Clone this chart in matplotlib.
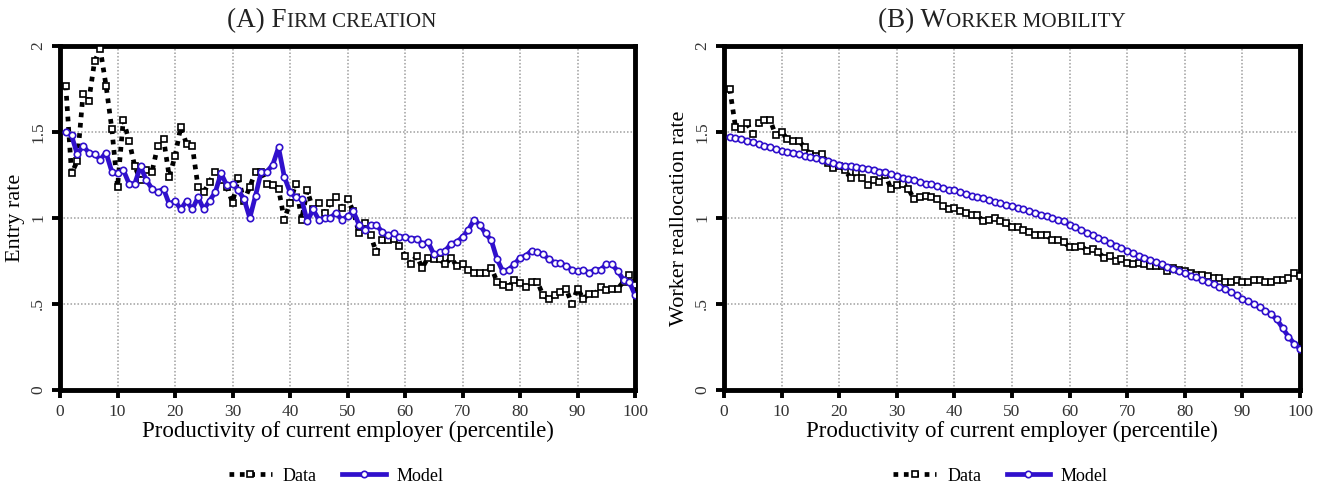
import numpy as np
import matplotlib
matplotlib.use("Agg")
import matplotlib.pyplot as plt

plt.rcParams['font.family'] = ['Liberation Serif', 'DejaVu Serif']

pct = list(range(1, 101))

# panel A: firm creation (entry rate)
entry_data = [1.77, 1.26, 1.33, 1.72, 1.68, 1.91, 1.98, 1.77, 1.52, 1.18,
              1.57, 1.45, 1.30, 1.22, 1.28, 1.27, 1.42, 1.46, 1.24, 1.36,
              1.53, 1.43, 1.42, 1.18, 1.15, 1.21, 1.27, 1.22, 1.18, 1.09,
              1.23, 1.10, 1.18, 1.27, 1.27, 1.20, 1.19, 1.17, 0.99, 1.09,
              1.20, 0.99, 1.16, 1.05, 1.09, 1.03, 1.09, 1.12, 1.06, 1.11,
              1.04, 0.91, 0.97, 0.90, 0.80, 0.87, 0.87, 0.88, 0.84, 0.78,
              0.73, 0.78, 0.71, 0.77, 0.76, 0.76, 0.73, 0.77, 0.72, 0.73,
              0.70, 0.68, 0.68, 0.68, 0.71, 0.63, 0.61, 0.60, 0.64, 0.62,
              0.60, 0.63, 0.63, 0.55, 0.53, 0.55, 0.57, 0.59, 0.50, 0.59,
              0.53, 0.56, 0.56, 0.60, 0.58, 0.59, 0.59, 0.63, 0.67, 0.61]
entry_model = [1.50, 1.48, 1.37, 1.42, 1.38, 1.37, 1.34, 1.38, 1.27, 1.26,
               1.28, 1.20, 1.20, 1.30, 1.22, 1.17, 1.15, 1.17, 1.08, 1.10,
               1.05, 1.10, 1.05, 1.12, 1.05, 1.10, 1.15, 1.26, 1.19, 1.20,
               1.16, 1.11, 1.00, 1.13, 1.27, 1.27, 1.31, 1.41, 1.24, 1.15,
               1.12, 1.11, 0.98, 1.05, 0.99, 1.00, 1.00, 1.03, 0.99, 1.01,
               1.04, 0.96, 0.93, 0.96, 0.96, 0.92, 0.90, 0.91, 0.89, 0.89,
               0.88, 0.88, 0.85, 0.86, 0.79, 0.80, 0.81, 0.85, 0.86, 0.89,
               0.93, 0.99, 0.96, 0.91, 0.87, 0.76, 0.69, 0.70, 0.73, 0.77,
               0.78, 0.81, 0.80, 0.79, 0.76, 0.74, 0.74, 0.72, 0.70, 0.69,
               0.70, 0.68, 0.70, 0.70, 0.73, 0.73, 0.69, 0.64, 0.63, 0.55]

# panel B: worker mobility (reallocation rate)
realloc_data = [1.75, 1.53, 1.52, 1.55, 1.49, 1.55, 1.57, 1.57, 1.48, 1.50,
                1.46, 1.45, 1.45, 1.41, 1.37, 1.36, 1.37, 1.32, 1.29, 1.30,
                1.28, 1.23, 1.27, 1.23, 1.19, 1.22, 1.21, 1.25, 1.17, 1.19,
                1.20, 1.17, 1.11, 1.12, 1.13, 1.12, 1.11, 1.07, 1.05, 1.06,
                1.04, 1.03, 1.02, 1.02, 0.98, 0.99, 1.00, 0.98, 0.97, 0.95,
                0.95, 0.93, 0.92, 0.90, 0.90, 0.90, 0.87, 0.87, 0.86, 0.83,
                0.83, 0.84, 0.81, 0.82, 0.80, 0.77, 0.78, 0.75, 0.76, 0.74,
                0.73, 0.74, 0.73, 0.72, 0.72, 0.72, 0.69, 0.71, 0.70, 0.69,
                0.68, 0.67, 0.67, 0.66, 0.65, 0.65, 0.63, 0.63, 0.64, 0.63,
                0.63, 0.64, 0.64, 0.63, 0.63, 0.64, 0.64, 0.65, 0.68, 0.66]
realloc_model = [1.47, 1.465, 1.46, 1.45, 1.44, 1.43, 1.42, 1.41, 1.40, 1.39,
                 1.385, 1.38, 1.37, 1.36, 1.355, 1.35, 1.34, 1.33, 1.32, 1.31,
                 1.305, 1.30, 1.295, 1.29, 1.285, 1.28, 1.27, 1.265, 1.255, 1.245,
                 1.235, 1.225, 1.22, 1.21, 1.20, 1.195, 1.185, 1.175, 1.165, 1.16,
                 1.15, 1.14, 1.13, 1.12, 1.115, 1.105, 1.095, 1.085, 1.075, 1.07,
                 1.06, 1.05, 1.04, 1.03, 1.02, 1.01, 1.00, 0.99, 0.98, 0.96,
                 0.945, 0.93, 0.915, 0.90, 0.885, 0.87, 0.855, 0.84, 0.825, 0.81,
                 0.795, 0.78, 0.77, 0.755, 0.745, 0.73, 0.715, 0.705, 0.69, 0.68,
                 0.665, 0.655, 0.64, 0.63, 0.615, 0.60, 0.585, 0.57, 0.55, 0.53,
                 0.515, 0.50, 0.48, 0.46, 0.44, 0.41, 0.36, 0.31, 0.27, 0.24]

xticks = [0, 10, 20, 30, 40, 50, 60, 70, 80, 90, 100]
yticks = [0, 0.5, 1, 1.5, 2]
yticklabels = ['0', '.5', '1', '1.5', '2']

blue = '#3010cc'

fig = plt.figure(figsize=(13.25, 4.88), dpi=100)
ax1 = fig.add_axes([0.0453, 0.2008, 0.434, 0.705])
ax2 = fig.add_axes([0.5464, 0.2008, 0.4347, 0.705])


def draw_panel(ax, data, model, ylabel):
    ax.plot(pct, data, color='black', linestyle=(0, (1, 1.2)), lw=3.4,
            marker='s', markersize=5, markerfacecolor='white',
            markeredgecolor='black', markeredgewidth=1.2, label='Data', zorder=3)
    ax.plot(pct, model, color=blue, lw=3.4, marker='o', markersize=4.6,
            markerfacecolor='white', markeredgecolor=blue,
            markeredgewidth=1.2, label='Model', zorder=4)
    ax.set_xlim(0, 100)
    ax.set_ylim(0, 2)
    ax.set_xticks(xticks)
    ax.set_yticks(yticks)
    ax.set_yticklabels(yticklabels, rotation=90, va='center')
    ax.grid(True, color='#b4b4b4', linestyle=(0, (0.8, 1.0)), lw=1.4)
    ax.set_axisbelow(True)
    for s in ax.spines.values():
        s.set_linewidth(3.5)
        s.set_color('black')
    ax.tick_params(direction='out', length=6, width=2.8, color='black',
                   labelsize=12.5, labelcolor='#333333', pad=4)
    ax.set_xlabel('Productivity of current employer (percentile)',
                  fontsize=16.5, labelpad=1)
    ax.set_ylabel(ylabel, fontsize=16, labelpad=4)
    ax.legend(loc='center', bbox_to_anchor=(0.48, -0.25), ncol=2,
              frameon=False, fontsize=13, handlelength=2.4,
              columnspacing=1.4, handletextpad=0.6)


draw_panel(ax1, entry_data, entry_model, 'Entry rate')
draw_panel(ax2, realloc_data, realloc_model, 'Worker reallocation rate')


def smallcaps_title(ax, parts, shift, y=0.945):
    # parts: list of (text, is_big); big letters larger, rest small caps
    r = fig.canvas.get_renderer()
    texts = []
    for s, big in parts:
        t = fig.text(0, y, s, fontsize=19.5 if big else 15.2, va='baseline',
                     ha='left', color='#222222')
        texts.append(t)
    widths = [t.get_window_extent(renderer=r).width for t in texts]
    total = sum(widths)
    pos = ax.get_position()
    cx = (pos.x0 + pos.x1) / 2 * fig.bbox.width + shift
    x = cx - total / 2
    for t, w in zip(texts, widths):
        t.set_x(x / fig.bbox.width)
        x += w


fig.canvas.draw()
smallcaps_title(ax1, [('(A) F', True), ('IRM CREATION', False)], -16)
smallcaps_title(ax2, [('(B) W', True), ('ORKER MOBILITY', False)], -10)

fig.savefig('out.png', dpi=100)
